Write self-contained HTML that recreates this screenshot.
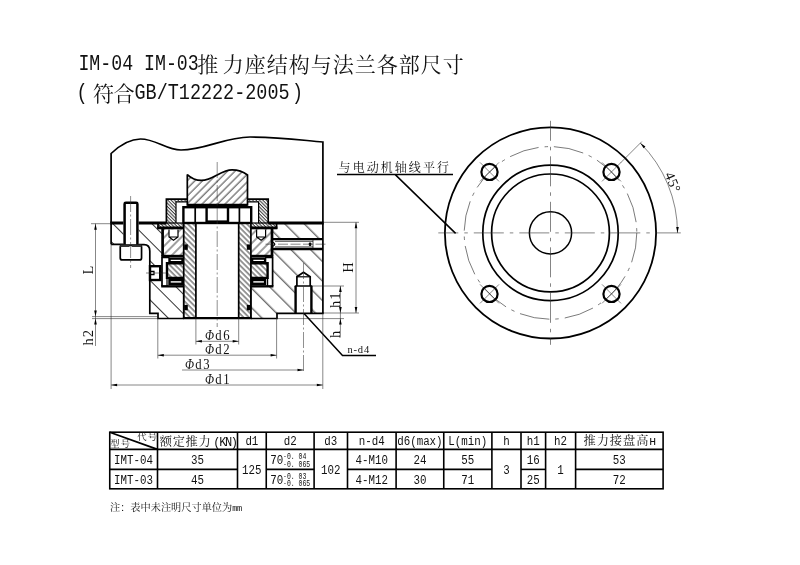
<!DOCTYPE html>
<html lang="zh"><head><meta charset="utf-8"><title>IM-04 IM-03推力座结构与法兰各部尺寸</title>
<style>
html,body{margin:0;padding:0;background:#fff;}
svg{display:block;will-change:transform;transform:translateZ(0);}
text{font-family:"Liberation Serif","Noto Serif CJK SC",serif;fill:#111;}
.k{stroke:#000;stroke-width:1.7;fill:none;stroke-linejoin:miter;stroke-miterlimit:2}
.kk{stroke:#000;stroke-width:2.4;fill:none}
.m{stroke:#000;stroke-width:1.2;fill:none}
.t{stroke:#222;stroke-width:0.55;fill:none}
.c{stroke:#333;stroke-width:0.55;fill:none;stroke-dasharray:16 2.5 2 2.5}
.w{fill:#fff;stroke:none}
.b{fill:#000;stroke:none}
.cn{font-family:"Liberation Serif","Noto Serif CJK SC",serif;}
</style></head><body>
<svg width="800" height="565" viewBox="0 0 800 565">
<defs>
<pattern id="hA" width="5.4" height="5.4" patternUnits="userSpaceOnUse" patternTransform="rotate(45)"><line x1="1" y1="0" x2="1" y2="5.4" stroke="#000" stroke-width="0.75"/></pattern>
<pattern id="hB" width="3.8" height="3.8" patternUnits="userSpaceOnUse" patternTransform="rotate(-45)"><line x1="1" y1="0" x2="1" y2="3.8" stroke="#000" stroke-width="0.8"/></pattern>
<pattern id="hC" width="13.8" height="13.8" patternUnits="userSpaceOnUse" patternTransform="rotate(-45)"><line x1="1.77" y1="0" x2="1.77" y2="13.8" stroke="#000" stroke-width="0.8"/></pattern>
<pattern id="hCL" width="13.8" height="13.8" patternUnits="userSpaceOnUse" patternTransform="rotate(-45)"><line x1="4.45" y1="0" x2="4.45" y2="13.8" stroke="#000" stroke-width="0.8"/></pattern>
<pattern id="hD" width="6" height="6" patternUnits="userSpaceOnUse" patternTransform="rotate(45)"><line x1="2" y1="0" x2="2" y2="6" stroke="#000" stroke-width="0.75"/></pattern>
<pattern id="hE" width="2.4" height="2.4" patternUnits="userSpaceOnUse" patternTransform="rotate(-45)"><line x1="1" y1="0" x2="1" y2="2.4" stroke="#000" stroke-width="0.8"/></pattern>
<path id="ar" d="M0,0 L-1.3,6 L1.3,6 Z" fill="#000"/>
</defs>
<rect width="800" height="565" fill="#fff"/>

<text transform="translate(78.40,69.80) scale(1,1.197)" style="font-family:'Liberation Mono',monospace" font-size="18.25" >IM-04 IM-03</text>
<text x="197.3 222.8 244.8 266.8 288.8 310.8 332.8 354.8 376.8 398.8 420.8 442.8" y="72.2" font-size="21">推力座结构与法兰各部尺寸</text>
<text transform="translate(76.50,98.90) scale(1,1.183)" style="font-family:'Liberation Mono',monospace" font-size="18.47" >(</text>
<text x="93 113.5" y="101.2" font-size="21">符合</text>
<text transform="translate(134.50,98.90) scale(1,1.183)" style="font-family:'Liberation Mono',monospace" font-size="18.47" >GB/T12222-2005</text>
<text transform="translate(292.00,98.90) scale(1,1.183)" style="font-family:'Liberation Mono',monospace" font-size="18.47" >)</text>
<g id="section">
<path d="M187.3,174.6 C191,178 196,180.4 201.3,180.4 C213,180.4 221,169.8 232,169.8 C238,169.8 243,171.5 247.5,175 V204.9 H187.3 Z" fill="url(#hA)"/>
<polygon points="166.4,199.2 187.3,199.2 187.3,201.8 176.0,201.8 176.0,223.0 183.7,223.0 183.7,228.8 158.0,228.8 158.0,223.0 166.4,223.0" fill="url(#hE)"/>
<polygon points="268.2,199.2 247.3,199.2 247.3,201.8 258.6,201.8 258.6,223.0 250.9,223.0 250.9,228.8 276.6,228.8 276.6,223.0 268.2,223.0" fill="url(#hE)"/>
<rect x="183.7" y="223.0" width="12.2" height="95.5" fill="url(#hB)"/>
<rect x="238.7" y="223.0" width="12.2" height="95.5" fill="url(#hB)"/>
<rect x="167" y="263.3" width="16.7" height="14.6" fill="url(#hB)"/>
<rect x="250.9" y="263.3" width="16.7" height="14.6" fill="url(#hB)"/>
<rect x="162" y="228.8" width="21.7" height="27" fill="url(#hD)"/>
<rect x="250.9" y="228.8" width="21.7" height="27" fill="url(#hD)"/>
<polygon points="138.0,223.0 158.0,223.0 158.0,228.8 162.0,228.8 162.0,286.3 183.7,286.3 183.7,318.5 158.0,318.5 158.0,313.3 149.8,313.3 149.8,251.0 148.6,246.6 144.0,244.6 138.0,244.6" fill="url(#hCL)"/>
<rect x="111.1" y="223.0" width="12.9" height="21.2" fill="url(#hCL)"/>
<polygon points="276.6,223.0 322.9,223.0 322.9,313.3 277.0,313.3 277.0,318.5 250.9,318.5 250.9,286.3 272.6,286.3 272.6,228.8 276.6,228.8" fill="url(#hC)"/>
<rect class="w" x="149.8" y="266" width="10.4" height="14"/>
<rect class="w" x="272.6" y="239" width="50" height="10"/>
<path class="w" d="M295.5,313.3 V286 H296.8 V276.8 L303.5,272.2 L310.3,276.8 V286 H311.5 V313.3 Z"/>
<path class="w" d="M169.0,229.5 V237 L173.5,240.2 L178.0,237 V229.5 Z"/>
<path class="w" d="M265.6,229.5 V237 L261.1,240.2 L256.6,237 V229.5 Z"/>
<path class="k" d="M111.1,244.2 V153.5 C118,147 128,139 140.5,139 C156,139 166,150 181,150 C205,150 225,137 250,137 C278,137 300,140 322.9,142 V313.3"/>
<path d="M110.3,223.0 H166.4 M268.2,223.0 H323.7" stroke="#000" stroke-width="3" fill="none"/>
<path class="k" d="M187.3,174.6 C191,178 196,180.4 201.3,180.4 C213,180.4 221,169.8 232,169.8 C238,169.8 243,171.5 247.5,175 V204.9 H187.3 Z"/>
<path class="kk" d="M187.3,204.9 H247.5"/>
<path class="k" d="M166.4,223.0 V199.2 H187.3"/>
<path class="m" d="M176.0,223.0 V201.8 H187.3"/>
<path class="k" d="M158.0,223.0 V228.8"/>
<path d="M157.2,227.9 H183.7" stroke="#000" stroke-width="2.8" fill="none"/>
<path class="m" d="M158.0,223.0 H183.7"/>
<path class="k" d="M268.2,223.0 V199.2 H247.3"/>
<path class="m" d="M258.6,223.0 V201.8 H247.3"/>
<path class="k" d="M276.6,223.0 V228.8"/>
<path d="M277.4,227.9 H250.9" stroke="#000" stroke-width="2.8" fill="none"/>
<path class="m" d="M276.6,223.0 H250.9"/>
<rect class="kk" x="183.4" y="207.2" width="67.8" height="15.8"/>
<path class="k" d="M195.2,207.2 V223.0 M239.4,207.2 V223.0"/>
<path class="kk" d="M206.6,207.2 V222 M228.0,207.2 V222"/>
<path d="M206,222 H228.6" stroke="#000" stroke-width="3.2" fill="none"/>
<path class="k" d="M183.7,223.0 V318.5 M195.9,223.0 V318.5 M238.7,223.0 V318.5 M250.9,223.0 V318.5"/>
<path class="m" d="M183.7,223.0 H195.9 M238.7,223.0 H250.9"/>
<path d="M182.9,318.1 H251.7" stroke="#000" stroke-width="2.2" fill="none"/>
<rect class="b" x="184.2" y="244.4" width="3.6" height="5.4"/>
<rect class="b" x="184.2" y="304.9" width="3.6" height="5.4"/>
<rect class="b" x="246.8" y="244.4" width="3.6" height="5.4"/>
<rect class="b" x="246.8" y="304.9" width="3.6" height="5.4"/>
<path d="M162.6,228.8 V256.6" stroke="#000" stroke-width="2.7" fill="none"/>
<path class="kk" d="M161.4,256 H183.7"/>
<path class="m" d="M169.0,229.5 V237 L173.5,240.2 L178.0,237 V229.5 M169.0,237 H178.0"/>
<rect class="kk" x="169.5" y="258.6" width="13" height="3.6"/>
<rect class="kk" x="169.5" y="280" width="13" height="3.8"/>
<path class="kk" d="M183.7,263.3 H167.0 V277.9 H183.7"/>
<path class="k" d="M162.0,257 V286.3"/>
<path class="kk" d="M161.2,286.3 H183.7"/>
<path class="m" d="M162.0,257.6 H169.5 M167.0,278 V286"/>
<path d="M272.0,228.8 V256.6" stroke="#000" stroke-width="2.7" fill="none"/>
<path class="kk" d="M273.2,256 H250.9"/>
<path class="m" d="M265.6,229.5 V237 L261.1,240.2 L256.6,237 V229.5 M265.6,237 H256.6"/>
<rect class="kk" x="252.1" y="258.6" width="13" height="3.6"/>
<rect class="kk" x="252.1" y="280" width="13" height="3.8"/>
<path class="kk" d="M250.9,263.3 H267.6 V277.9 H250.9"/>
<path class="k" d="M272.6,257 V286.3"/>
<path class="kk" d="M273.4,286.3 H250.9"/>
<path class="m" d="M272.6,257.6 H265.1 M267.6,278 V286"/>
<path class="k" d="M111.1,244.4 H124 M138,244.6 H144 C147.6,244.6 149.8,247 149.8,251 V313.3 H158 V318.5 H183.7"/>
<path class="m" d="M183.7,286.3 V318.5 M250.9,286.3 V318.5"/>
<rect class="w" x="123.4" y="201.6" width="15.2" height="43" rx="1.5"/>
<path d="M124.6,245 V204 Q124.6,202.8 125.8,202.8 H136.2 Q137.4,202.8 137.4,204 V245" stroke="#000" stroke-width="2.5" fill="none"/>
<rect x="120.25" y="245.1" width="21.3" height="14.8" rx="2" fill="#fff" stroke="#000" stroke-width="1.7"/>
<path d="M120.25,245.7 H129.6 M131.6,245.7 H141.5" stroke="#333" stroke-width="2.4" fill="none"/>
<path class="c" d="M130.6,196 V268"/>
<rect class="kk" x="150" y="266.2" width="10.2" height="13.8"/>
<path class="m" d="M150,271.3 H154 V274.7 H150"/>
<path class="t" d="M146,273 H166"/>
<path class="k" d="M323.7,313.3 H277 V318.5 H250.9"/>
<path class="kk" d="M272.6,239.1 H322.9 M272.6,249 H322.9"/>
<path d="M275,241.3 H313 M275,246.9 H313 M313,239.2 V249" stroke="#000" stroke-width="0.7" fill="none"/>
<path class="m" d="M273,242.2 Q276.4,244.2 273,246.2"/>
<rect class="b" x="308.8" y="242.6" width="2.6" height="3.4" rx="1"/>
<path class="t" d="M265.5,244.2 H327.5" stroke-dasharray="10 2.5"/>
<path class="kk" d="M295.6,313.3 V286 M311.4,313.3 V286"/>
<path class="k" d="M296.9,286 V276.8 L303.5,272.2 L310.2,276.8 V286 M294.8,286 H312.2"/>
<path class="m" d="M296.9,276.8 H310.2"/>
<path class="c" d="M303.5,263 V373"/>
<path class="c" d="M217.2,162 V327"/>
</g>
<g id="dims">
<path class="t" d="M91,223.7 H111 M92,316.6 H158 M92,318.6 H158 M95.5,223.7 V346"/>
<use href="#ar" transform="translate(95.50,223.70) rotate(0.0)"/>
<use href="#ar" transform="translate(95.50,316.60) rotate(180.0)"/>
<use href="#ar" transform="translate(95.50,318.60) rotate(0.0)"/>
<text transform="translate(92.8,274.5) rotate(-90)" font-size="14.5">L</text>
<text transform="translate(92.8,345.5) rotate(-90)" font-size="14.5" letter-spacing="1">h2</text>
<path class="t" d="M323,222.3 H359 M323,313 H359 M356,222.3 V313"/>
<use href="#ar" transform="translate(356.00,222.30) rotate(0.0)"/>
<use href="#ar" transform="translate(356.00,313.00) rotate(180.0)"/>
<text transform="translate(352.5,272.8) rotate(-90)" font-size="14.5">H</text>
<path class="t" d="M311,286 H344 M277,318.6 H344 M340.4,286 V337.5"/>
<use href="#ar" transform="translate(340.40,286.00) rotate(0.0)"/>
<use href="#ar" transform="translate(340.40,313.00) rotate(180.0)"/>
<use href="#ar" transform="translate(340.40,318.60) rotate(0.0)"/>
<text transform="translate(339.5,308) rotate(-90)" font-size="14.5" letter-spacing="1">h1</text>
<text transform="translate(339.5,338) rotate(-90)" font-size="14.5">h</text>
<path d="M304,313.5 L342.5,355.5 H376" stroke="#000" stroke-width="1.5" fill="none"/>
<text x="347.5" y="353" font-size="10.5" letter-spacing="0.8">n-d4</text>
<path class="t" d="M195.9,341.3 H238.7"/>
<use href="#ar" transform="translate(195.90,341.30) rotate(-90.0)"/>
<use href="#ar" transform="translate(238.70,341.30) rotate(90.0)"/>
<text transform="translate(205.1,339.8) scale(0.82,1)" font-size="15.5" letter-spacing="2"><tspan font-style="italic" font-size="14.5">Φ</tspan><tspan dx="-0.5">d6</tspan></text>
<path class="t" d="M157.8,355.2 H276.6"/>
<use href="#ar" transform="translate(157.80,355.20) rotate(-90.0)"/>
<use href="#ar" transform="translate(276.60,355.20) rotate(90.0)"/>
<text transform="translate(205.1,353.7) scale(0.82,1)" font-size="15.5" letter-spacing="2"><tspan font-style="italic" font-size="14.5">Φ</tspan><tspan dx="-0.5">d2</tspan></text>
<path class="t" d="M182.0,370.0 H303.5"/>
<use href="#ar" transform="translate(303.50,370.00) rotate(90.0)"/>
<text transform="translate(185.1,368.5) scale(0.82,1)" font-size="15.5" letter-spacing="2"><tspan font-style="italic" font-size="14.5">Φ</tspan><tspan dx="-0.5">d3</tspan></text>
<path class="t" d="M111.1,385.0 H322.8"/>
<use href="#ar" transform="translate(111.10,385.00) rotate(-90.0)"/>
<use href="#ar" transform="translate(322.80,385.00) rotate(90.0)"/>
<text transform="translate(205.1,383.5) scale(0.82,1)" font-size="15.5" letter-spacing="2"><tspan font-style="italic" font-size="14.5">Φ</tspan><tspan dx="-0.5">d1</tspan></text>
<path class="t" d="M111.1,244 V389 M157.8,318 V358.5 M195.9,318 V344.5 M238.7,318 V344.5 M276.6,318 V358.5 M322.8,313 V389"/>
</g>
<g id="flange">
<circle cx="550.5" cy="232.9" r="105.6" fill="none" stroke="#000" stroke-width="1.8"/>
<circle class="k" cx="550.5" cy="232.9" r="67.7"/>
<circle class="k" cx="550.5" cy="232.9" r="58.9"/>
<circle cx="550.5" cy="232.9" r="21.1" fill="none" stroke="#000" stroke-width="1.5"/>
<circle cx="550.5" cy="232.9" r="86.3" fill="none" stroke="#222" stroke-width="0.6" stroke-dasharray="30 6 3.5 6"/>
<path d="M438.3,232.9 H680.8 M550.5,120.8 V344.8" fill="none" stroke="#333" stroke-width="0.6" stroke-dasharray="30 6 3.5 6" stroke-dashoffset="10"/>
<circle cx="489.5" cy="171.9" r="8.1" fill="none" stroke="#000" stroke-width="2.2"/>
<path class="t" d="M480.0,162.4 L499.0,181.4 M480.0,181.4 L499.0,162.4"/>
<circle cx="489.5" cy="293.9" r="8.1" fill="none" stroke="#000" stroke-width="2.2"/>
<path class="t" d="M480.0,284.4 L499.0,303.4 M480.0,303.4 L499.0,284.4"/>
<circle cx="611.5" cy="171.9" r="8.1" fill="none" stroke="#000" stroke-width="2.2"/>
<path class="t" d="M602.0,162.4 L621.0,181.4 M602.0,181.4 L621.0,162.4"/>
<circle cx="611.5" cy="293.9" r="8.1" fill="none" stroke="#000" stroke-width="2.2"/>
<path class="t" d="M602.0,284.4 L621.0,303.4 M602.0,303.4 L621.0,284.4"/>
<path class="t" d="M620.5,162.9 L641.8,141.6"/>
<path class="t" d="M640.3,143.1 A127,127 0 0 1 677.5,232.9"/>
<use href="#ar" transform="translate(677.50,232.90) rotate(180.0)"/>
<use href="#ar" transform="translate(640.30,143.10) rotate(-45.0)"/>
<text transform="translate(664.5,174.5) rotate(67)" font-size="14" letter-spacing="0.5">45°</text>
<text x="338.60 352.65 366.70 380.75 394.80 408.85 422.90 436.95" y="171.60" font-size="12" >与电动机轴线平行</text>
<path d="M337,174.4 H453 M395,174.4 L455.6,233.4" stroke="#000" stroke-width="1.5" fill="none"/>
</g>
<g id="table">
<rect x="109.75" y="432.2" width="553.35" height="56.60000000000002" stroke="#000" stroke-width="1.6" fill="none"/>
<path d="M109.75,449.4 H663.1" stroke="#000" stroke-width="1.6" fill="none"/>
<path d="M157.5,432.2 V488.8" stroke="#000" stroke-width="1.6" fill="none"/>
<path d="M237.5,432.2 V488.8" stroke="#000" stroke-width="1.6" fill="none"/>
<path d="M266.25,432.2 V488.8" stroke="#000" stroke-width="1.6" fill="none"/>
<path d="M314.1,432.2 V488.8" stroke="#000" stroke-width="1.6" fill="none"/>
<path d="M347.5,432.2 V488.8" stroke="#000" stroke-width="1.6" fill="none"/>
<path d="M396.1,432.2 V488.8" stroke="#000" stroke-width="1.6" fill="none"/>
<path d="M443.75,432.2 V488.8" stroke="#000" stroke-width="1.6" fill="none"/>
<path d="M491.9,432.2 V488.8" stroke="#000" stroke-width="1.6" fill="none"/>
<path d="M521.0,432.2 V488.8" stroke="#000" stroke-width="1.6" fill="none"/>
<path d="M545.6,432.2 V488.8" stroke="#000" stroke-width="1.6" fill="none"/>
<path d="M575.6,432.2 V488.8" stroke="#000" stroke-width="1.6" fill="none"/>
<path d="M109.75,469.4 H157.5" stroke="#000" stroke-width="1.6" fill="none"/>
<path d="M157.5,469.4 H237.5" stroke="#000" stroke-width="1.6" fill="none"/>
<path d="M266.25,469.4 H314.1" stroke="#000" stroke-width="1.6" fill="none"/>
<path d="M347.5,469.4 H396.1" stroke="#000" stroke-width="1.6" fill="none"/>
<path d="M396.1,469.4 H443.75" stroke="#000" stroke-width="1.6" fill="none"/>
<path d="M443.75,469.4 H491.9" stroke="#000" stroke-width="1.6" fill="none"/>
<path d="M521.0,469.4 H545.6" stroke="#000" stroke-width="1.6" fill="none"/>
<path d="M575.6,469.4 H663.1" stroke="#000" stroke-width="1.6" fill="none"/>
<path d="M109.75,432.2 L157.5,449.4" stroke="#000" stroke-width="1.7"/>
<text x="137.3" y="440" font-size="9.4" letter-spacing="1" font-weight="400">代号</text>
<text x="110.3" y="447.4" font-size="9.4" letter-spacing="1" font-weight="400">型号</text>
<text x="159.8" y="445.6" font-size="12.2" letter-spacing="0.7" font-weight="400">额定推力<tspan style="font-family:'Liberation Mono',monospace" font-size="12" letter-spacing="-1.4" dx="2">(KN)</tspan></text>
<text transform="translate(245.38,445.40) scale(1,1.191)" style="font-family:'Liberation Mono',monospace" font-size="10.83" >d1</text>
<text transform="translate(283.68,445.40) scale(1,1.191)" style="font-family:'Liberation Mono',monospace" font-size="10.83" >d2</text>
<text transform="translate(324.30,445.40) scale(1,1.191)" style="font-family:'Liberation Mono',monospace" font-size="10.83" >d3</text>
<text transform="translate(358.80,445.40) scale(1,1.191)" style="font-family:'Liberation Mono',monospace" font-size="10.83" >n-d4</text>
<text transform="translate(397.18,445.40) scale(1,1.191)" style="font-family:'Liberation Mono',monospace" font-size="10.83" >d6(max)</text>
<text transform="translate(448.32,445.40) scale(1,1.191)" style="font-family:'Liberation Mono',monospace" font-size="10.83" >L(min)</text>
<text transform="translate(503.20,445.40) scale(1,1.191)" style="font-family:'Liberation Mono',monospace" font-size="10.83" >h</text>
<text transform="translate(526.80,445.40) scale(1,1.191)" style="font-family:'Liberation Mono',monospace" font-size="10.83" >h1</text>
<text transform="translate(554.10,445.40) scale(1,1.191)" style="font-family:'Liberation Mono',monospace" font-size="10.83" >h2</text>
<text x="583.5" y="445.0" font-size="12.2" letter-spacing="1.0" font-weight="400">推力接盘高<tspan style="font-family:'Liberation Mono',monospace" font-size="11.4" letter-spacing="-1.1" dx="-0.3">H</tspan></text>
<text transform="translate(114.12,463.70) scale(1,1.191)" style="font-family:'Liberation Mono',monospace" font-size="10.83" >IMT-04</text>
<text transform="translate(191.00,463.70) scale(1,1.191)" style="font-family:'Liberation Mono',monospace" font-size="10.83" >35</text>
<text transform="translate(355.55,463.70) scale(1,1.191)" style="font-family:'Liberation Mono',monospace" font-size="10.83" >4-M10</text>
<text transform="translate(413.43,463.70) scale(1,1.191)" style="font-family:'Liberation Mono',monospace" font-size="10.83" >24</text>
<text transform="translate(461.32,463.70) scale(1,1.191)" style="font-family:'Liberation Mono',monospace" font-size="10.83" >55</text>
<text transform="translate(526.80,463.70) scale(1,1.191)" style="font-family:'Liberation Mono',monospace" font-size="10.83" >16</text>
<text transform="translate(612.85,463.70) scale(1,1.191)" style="font-family:'Liberation Mono',monospace" font-size="10.83" >53</text>
<text transform="translate(114.12,483.60) scale(1,1.191)" style="font-family:'Liberation Mono',monospace" font-size="10.83" >IMT-03</text>
<text transform="translate(191.00,483.60) scale(1,1.191)" style="font-family:'Liberation Mono',monospace" font-size="10.83" >45</text>
<text transform="translate(355.55,483.60) scale(1,1.191)" style="font-family:'Liberation Mono',monospace" font-size="10.83" >4-M12</text>
<text transform="translate(413.43,483.60) scale(1,1.191)" style="font-family:'Liberation Mono',monospace" font-size="10.83" >30</text>
<text transform="translate(461.32,483.60) scale(1,1.191)" style="font-family:'Liberation Mono',monospace" font-size="10.83" >71</text>
<text transform="translate(526.80,483.60) scale(1,1.191)" style="font-family:'Liberation Mono',monospace" font-size="10.83" >25</text>
<text transform="translate(612.85,483.60) scale(1,1.191)" style="font-family:'Liberation Mono',monospace" font-size="10.83" >72</text>
<text transform="translate(242.12,473.70) scale(1,1.191)" style="font-family:'Liberation Mono',monospace" font-size="10.83" >125</text>
<text transform="translate(321.05,473.70) scale(1,1.191)" style="font-family:'Liberation Mono',monospace" font-size="10.83" >102</text>
<text transform="translate(503.20,473.70) scale(1,1.191)" style="font-family:'Liberation Mono',monospace" font-size="10.83" >3</text>
<text transform="translate(557.35,473.70) scale(1,1.191)" style="font-family:'Liberation Mono',monospace" font-size="10.83" >1</text>
<text transform="translate(270.30,464.30) scale(1,1.191)" style="font-family:'Liberation Mono',monospace" font-size="10.83" >70</text>
<text transform="translate(283.00,459.10) scale(1,1.307)" style="font-family:'Liberation Mono',monospace" font-size="6.50" >-0. 04</text>
<text transform="translate(283.00,466.50) scale(1,1.307)" style="font-family:'Liberation Mono',monospace" font-size="6.50" >-0. 065</text>
<text transform="translate(270.30,484.20) scale(1,1.191)" style="font-family:'Liberation Mono',monospace" font-size="10.83" >70</text>
<text transform="translate(283.00,479.00) scale(1,1.307)" style="font-family:'Liberation Mono',monospace" font-size="6.50" >-0. 03</text>
<text transform="translate(283.00,486.40) scale(1,1.307)" style="font-family:'Liberation Mono',monospace" font-size="6.50" >-0. 065</text>
<text x="110" y="510.8" font-size="10.2" letter-spacing="0" font-weight="400">注：表中未注明尺寸单位为<tspan style="font-family:'Liberation Mono',monospace" font-size="8.6" letter-spacing="-0.5">mm</tspan></text>
</g>
</svg></body></html>
